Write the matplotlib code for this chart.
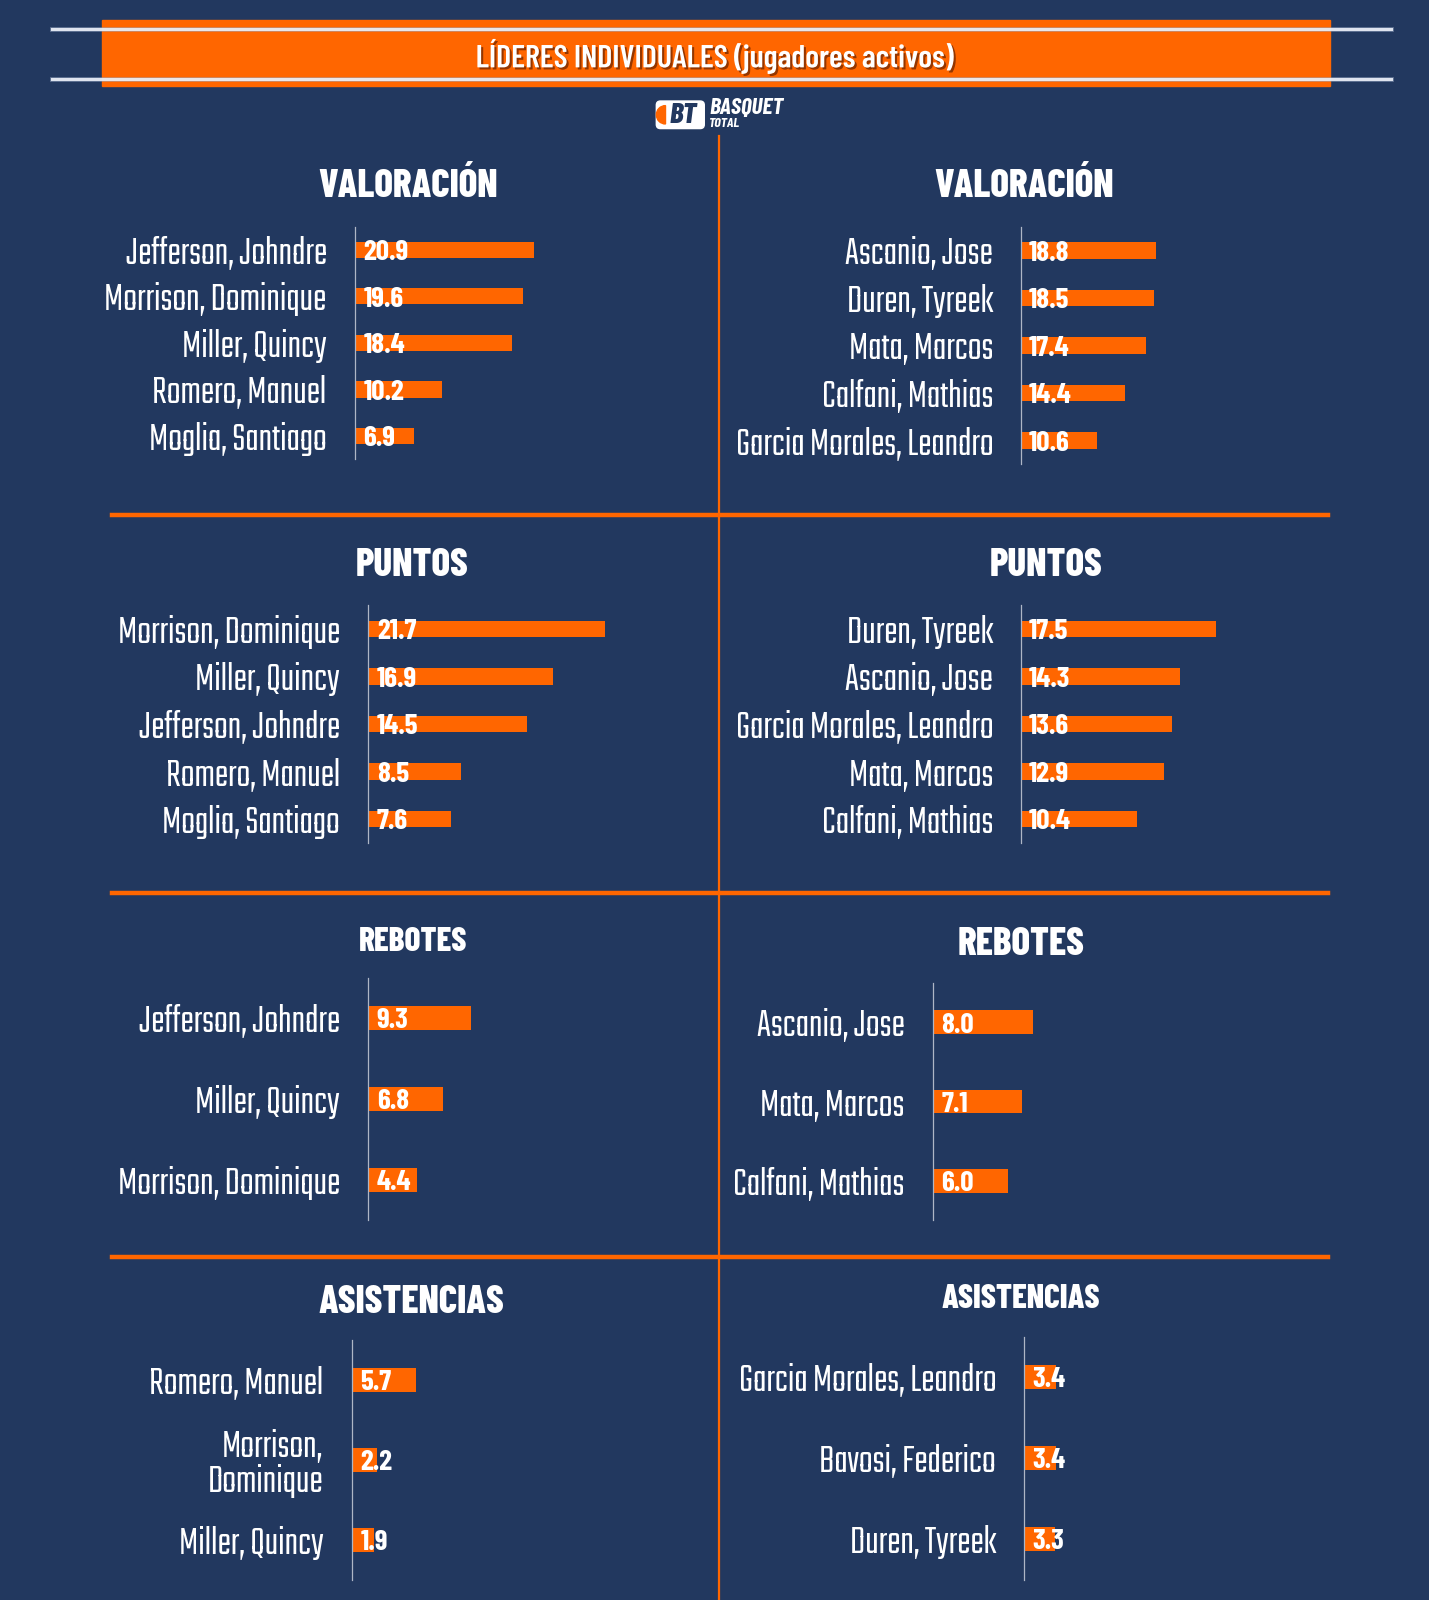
import matplotlib.pyplot as plt
from matplotlib.patches import Rectangle, FancyBboxPatch, Wedge
from matplotlib.transforms import ScaledTranslation
import matplotlib.patheffects as pe

# lienzo de referencia en pixeles (se escala a 1429x1600)
W, H = 1400, 1568
BG = '#22385f'
ORANGE = '#ff6600'
NAME_FONT = ['Teko', 'Barlow Condensed', 'DejaVu Sans']
BOLD_FONT = ['Barlow Condensed', 'DejaVu Sans']

# datos
valoracion_izq_nombres = ['Jefferson, Johndre', 'Morrison, Dominique', 'Miller, Quincy',
                          'Romero, Manuel', 'Moglia, Santiago']
valoracion_izq = [20.9, 19.6, 18.4, 10.2, 6.9]
valoracion_der_nombres = ['Ascanio, Jose', 'Duren, Tyreek', 'Mata, Marcos',
                          'Calfani, Mathias', 'Garcia Morales, Leandro']
valoracion_der = [18.8, 18.5, 17.4, 14.4, 10.6]
puntos_izq_nombres = ['Morrison, Dominique', 'Miller, Quincy', 'Jefferson, Johndre',
                      'Romero, Manuel', 'Moglia, Santiago']
puntos_izq = [21.7, 16.9, 14.5, 8.5, 7.6]
puntos_der_nombres = ['Duren, Tyreek', 'Ascanio, Jose', 'Garcia Morales, Leandro',
                      'Mata, Marcos', 'Calfani, Mathias']
puntos_der = [17.5, 14.3, 13.6, 12.9, 10.4]
rebotes_izq_nombres = ['Jefferson, Johndre', 'Miller, Quincy', 'Morrison, Dominique']
rebotes_izq = [9.3, 6.8, 4.4]
rebotes_der_nombres = ['Ascanio, Jose', 'Mata, Marcos', 'Calfani, Mathias']
rebotes_der = [8.0, 7.1, 6.0]
asist_izq_nombres = ['Romero, Manuel', 'Morrison,\nDominique', 'Miller, Quincy']
asist_izq = [5.7, 2.2, 1.9]
asist_der_nombres = ['Garcia Morales, Leandro', 'Bavosi, Federico', 'Duren, Tyreek']
asist_der = [3.4, 3.4, 3.3]

# (titulo, nombres, valores, eje_x, y_arriba, y_abajo, px por unidad, alto barra,
#  titulo_x, titulo_y, tam titulo, x fin nombres)
paneles = [
    ('VALORACIÓN', valoracion_izq_nombres, valoracion_izq, 348, 222, 450, 8.37, 0.35, 400, 182, 28, 320),
    ('VALORACIÓN', valoracion_der_nombres, valoracion_der, 1000, 222, 455, 7.07, 0.35, 1003, 182, 28, 973),
    ('PUNTOS', puntos_izq_nombres, puntos_izq, 361, 593, 826, 10.69, 0.35, 404, 554, 28, 333),
    ('PUNTOS', puntos_der_nombres, puntos_der, 1000, 593, 826, 10.91, 0.35, 1025, 554, 28, 973),
    ('REBOTES', rebotes_izq_nombres, rebotes_izq, 361, 958, 1196, 10.75, 0.30, 405, 923, 24, 333),
    ('REBOTES', rebotes_der_nombres, rebotes_der, 914, 963, 1196, 12.25, 0.30, 1000, 926, 28, 886),
    ('ASISTENCIAS', asist_izq_nombres, asist_izq, 345, 1313, 1548, 11.05, 0.30, 403, 1276, 28, 317),
    ('ASISTENCIAS', asist_der_nombres, asist_der, 1003, 1310, 1548, 9.4, 0.30, 1000, 1273, 24, 976),
]

fig = plt.figure(figsize=(14.29, 16), dpi=100, facecolor=BG)
bg = fig.add_axes([0, 0, 1, 1])
bg.set_xlim(0, W)
bg.set_ylim(H, 0)
bg.axis('off')

# cabecera
bg.add_patch(Rectangle((100, 20), 1203, 64, color=ORANGE, zorder=1))
for y in (28, 77):
    bg.plot([51, 1363], [y, y], color='#eef2fa', lw=2.2, zorder=2, alpha=0.9,
            path_effects=[pe.Stroke(linewidth=3.5, foreground='#9aa8c4', alpha=0.5), pe.Normal()])
bg.text(700, 55, 'LÍDERES INDIVIDUALES (jugadores activos)', color='white',
        fontsize=23, fontweight=600, family=BOLD_FONT, ha='center', va='center', zorder=3,
        path_effects=[pe.withSimplePatchShadow(offset=(1.5, -1.5), shadow_rgbFace='#7a2a00', alpha=0.8)])

# logo
bg.add_patch(FancyBboxPatch((643, 99), 47, 27, boxstyle='round,pad=0,rounding_size=4',
                            color='white', zorder=2))
bg.add_patch(Wedge((652, 112.5), 9, 90, 270, color=ORANGE, zorder=2.5))
bg.text(669, 113, 'BT', color=BG, fontsize=21, fontweight=800, style='italic',
        family=BOLD_FONT, ha='center', va='center', zorder=3)
bg.text(695, 106, 'BASQUET', color='white', fontsize=17, fontweight=700, style='italic',
        family=BOLD_FONT, ha='left', va='center')
bg.text(695, 121, 'TOTAL', color='white', fontsize=10, fontweight=700, style='italic',
        family=BOLD_FONT, ha='left', va='center')

# separadores
bg.plot([704, 704], [133, H], color=ORANGE, lw=1.6)
for y in (505, 875, 1232):
    bg.plot([110, 1301], [y, y], color=ORANGE, lw=3.2)

subir = ScaledTranslation(0, 3 / 100, fig.dpi_scale_trans)

for (titulo, nombres, valores, ex, yt, yb, esc, alto, tx, ty, tsz, nx) in paneles:
    bg.text(tx, ty, titulo, color='white', fontsize=tsz, fontweight=800,
            family=BOLD_FONT, ha='center', va='center')
    ancho = 330
    ax = fig.add_axes([ex / W, 1 - yb / H, ancho / W, (yb - yt) / H])
    ax.patch.set_alpha(0)
    n = len(valores)
    pos = list(range(n))
    ax.barh(pos, valores, height=alto, color=ORANGE, zorder=1)
    ax.set_xlim(0, ancho / esc)
    ax.set_ylim(n - 0.5, -0.5)
    ax.set_xticks([])
    ax.set_yticks(pos)
    ax.set_yticklabels(nombres, color='white', fontsize=29, family=NAME_FONT, linespacing=1.05)
    for lab in ax.get_yticklabels():
        lab.set_transform(lab.get_transform() + subir)
    ax.tick_params(axis='y', length=0, pad=(ex - nx) * 0.735)
    for s in ('top', 'right', 'bottom'):
        ax.spines[s].set_visible(False)
    ax.spines['left'].set_color('#aeb6c6')
    ax.spines['left'].set_linewidth(0.9)
    for i, v in enumerate(valores):
        ax.annotate(f'{v:.1f}', xy=(0, i), xytext=(6, -2), textcoords='offset points',
                    color='white', fontsize=21, fontweight=700, family=BOLD_FONT,
                    ha='left', va='center', zorder=3)

fig.savefig('out.png', dpi=100, facecolor=BG)
